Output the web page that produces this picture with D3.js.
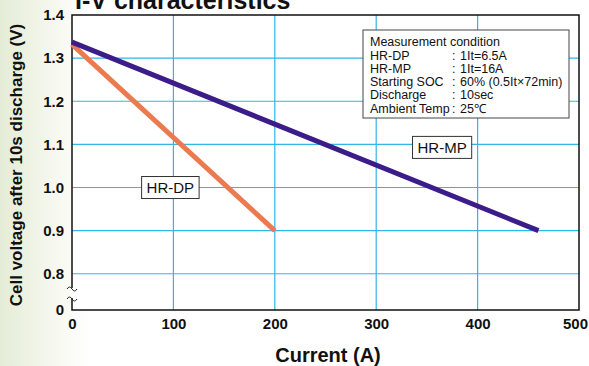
<!DOCTYPE html>
<html>
<head>
<meta charset="utf-8">
<script src="https://cdn.jsdelivr.net/npm/d3@7"></script>
<style>
  body { margin: 0; background: #fff; }
  svg { display: block; font-family: "Liberation Sans", Arial, sans-serif; }
</style>
</head>
<body>
<div id="chart"></div>
<script>
// Data
const seriesNames = ["HR-DP", "HR-MP"];
const currentHRDP = [0, 200];
const voltageHRDP = [1.332, 0.9];
const currentHRMP = [0, 460];
const voltageHRMP = [1.337, 0.9];
const xTicks = [0, 100, 200, 300, 400, 500];
const yTicks = [0, 0.8, 0.9, 1.0, 1.1, 1.2, 1.3, 1.4];
const conditionLabels = ["HR-DP", "HR-MP", "Starting SOC", "Discharge", "Ambient Temp"];
const conditionValues = ["1It=6.5A", "1It=16A", "60% (0.5It\u00d772min)", "10sec", "25\u2103"];

const W = 589, H = 366;
const margin = {top: 15, right: 10, bottom: 56, left: 72};
const width = W - margin.left - margin.right;
const height = H - margin.top - margin.bottom;

const svg = d3.select("#chart").append("svg")
    .attr("width", W)
    .attr("height", H);

// faint green strip on the left of the page
const grad = svg.append("defs").append("linearGradient")
    .attr("id", "bg").attr("x1", 0).attr("x2", 1);
grad.append("stop").attr("offset", 0).attr("stop-color", "#e4ecd6");
grad.append("stop").attr("offset", 0.6).attr("stop-color", "#f6f8ef");
grad.append("stop").attr("offset", 1).attr("stop-color", "#ffffff");
svg.append("rect").attr("width", 90).attr("height", H).attr("fill", "url(#bg)");

const g = svg.append("g")
    .attr("transform", `translate(${margin.left},${margin.top})`);

const x = d3.scaleLinear().domain([0, 500]).range([0, width]);
// axis is broken between 0 and 0.8
const y = d3.scaleLinear().domain([0, 0.716, 1.4]).range([height, height, 0]);

g.append("rect").attr("width", width).attr("height", height).attr("fill", "#fff");

// grid
g.append("g").selectAll("line")
    .data(xTicks.slice(1, -1))
    .enter().append("line")
    .attr("x1", d => x(d)).attr("x2", d => x(d))
    .attr("y1", 0).attr("y2", height)
    .attr("stroke", "#33b5e8").attr("stroke-width", 1.2);
g.append("g").selectAll("line")
    .data(yTicks.slice(1, -1))
    .enter().append("line")
    .attr("x1", 0).attr("x2", width)
    .attr("y1", d => y(d)).attr("y2", d => y(d))
    .attr("stroke", "#33b5e8").attr("stroke-width", 1.2);

// frame
g.append("rect").attr("width", width).attr("height", height)
    .attr("fill", "none").attr("stroke", "#111").attr("stroke-width", 1.5);

// axes
const xAxis = g.append("g")
    .attr("transform", `translate(0,${height})`)
    .call(d3.axisBottom(x).tickValues(xTicks).tickSize(0).tickPadding(8));
const yAxis = g.append("g")
    .call(d3.axisLeft(y).tickValues(yTicks).tickSize(0).tickPadding(8)
        .tickFormat(d => d === 0 ? "0" : d3.format(".1f")(d)));
[xAxis, yAxis].forEach(a => {
    a.select(".domain").remove();
    a.selectAll("text")
        .attr("font-family", "Liberation Sans, Arial, sans-serif")
        .attr("font-size", 15).attr("font-weight", "bold").attr("fill", "#111");
});
xAxis.selectAll("text").filter(d => d === 500).attr("dx", -4);

// break mark on y axis
const yb = y(0) - 17;
g.append("rect").attr("x", -1).attr("y", yb - 5).attr("width", 2.5).attr("height", 10).attr("fill", "#fff");
[yb - 5, yb + 5].forEach(cy => {
    g.append("path")
        .attr("d", `M-5,${cy + 1} q2.5,-4 5,0 t5,0`)
        .attr("fill", "none").attr("stroke", "#222").attr("stroke-width", 1);
});

// series lines
const line = d3.line().x(d => x(d[0])).y(d => y(d[1]));
const dp = currentHRDP.map((c, i) => [c, voltageHRDP[i]]);
const mp = currentHRMP.map((c, i) => [c, voltageHRMP[i]]);
g.append("path").datum(dp).attr("d", line)
    .attr("fill", "none").attr("stroke", "#ec7a50").attr("stroke-width", 5);
g.append("path").datum(mp).attr("d", line)
    .attr("fill", "none").attr("stroke", "#3b1c88").attr("stroke-width", 5);

// series labels in boxes
const seriesLabelPos = [[x(97), y(1.0)], [x(365), y(1.093)]];
seriesNames.forEach((name, i) => {
    const [cx, cy] = seriesLabelPos[i];
    const lg = g.append("g");
    const r = lg.append("rect");
    const t = lg.append("text").attr("x", cx).attr("y", cy + 5.5)
        .attr("text-anchor", "middle").attr("font-size", 15).attr("fill", "#111").text(name);
    const bb = t.node().getBBox();
    r.attr("x", bb.x - 5).attr("y", cy - 11)
        .attr("width", bb.width + 10).attr("height", 22)
        .attr("fill", "#fff").attr("stroke", "#333").attr("stroke-width", 1);
});

// measurement condition box
const box = g.append("g").attr("transform", `translate(${363 - margin.left},${30 - margin.top})`);
box.append("rect").attr("width", 206).attr("height", 88)
    .attr("fill", "#fff").attr("stroke", "#444").attr("stroke-width", 1);
box.append("text").attr("x", 7).attr("y", 16).attr("font-size", 12.5).attr("fill", "#111")
    .text("Measurement condition");
conditionLabels.forEach((lab, i) => {
    const by = 29.5 + i * 13.3;
    box.append("text").attr("x", 7).attr("y", by).attr("font-size", 12.5)
        .attr("fill", "#111").text(lab);
    box.append("text").attr("x", 89).attr("y", by).attr("font-size", 12.5)
        .attr("fill", "#111").text(":");
    box.append("text").attr("x", 97).attr("y", by).attr("font-size", 12.5)
        .attr("fill", "#111").text(conditionValues[i]);
});

// title (cut off at the top in the original)
svg.append("text").attr("x", 75).attr("y", 9)
    .attr("font-size", 25).attr("font-weight", "bold").attr("fill", "#111")
    .text("I-V characteristics");

// axis titles
svg.append("text").attr("x", 328).attr("y", 362)
    .attr("text-anchor", "middle").attr("font-size", 20).attr("font-weight", "bold")
    .attr("fill", "#111").text("Current (A)");
svg.append("text")
    .attr("transform", `translate(22,${165}) rotate(-90)`)
    .attr("text-anchor", "middle").attr("font-size", 17).attr("font-weight", "bold")
    .attr("fill", "#111").text("Cell voltage after 10s discharge (V)");
</script>
</body>
</html>
